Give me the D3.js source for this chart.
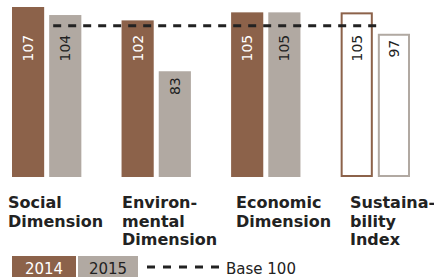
<!DOCTYPE html>
<html>
<head>
<meta charset="utf-8">
<script src="https://cdn.jsdelivr.net/npm/d3@7"></script>
<style>
  body { margin: 0; background: #fff; }
  svg { display: block; font-family: "DejaVu Sans", Verdana, sans-serif; }
</style>
</head>
<body>
<svg width="434" height="277"></svg>
<script>
const svg = d3.select("svg");

const categories = ["Social", "Environmental", "Economic", "Sustainability"];
const categoryLines = [
    ["Social", "Dimension"],
    ["Environ-", "mental", "Dimension"],
    ["Economic", "Dimension"],
    ["Sustaina-", "bility", "Index"]
];
const years = ["2014", "2015"];
const values2014 = [107, 102, 105, 105];
const values2015 = [104, 83, 105, 97];
const baseValue = 100;
const baseLabel = "Base 100";

const colors = { "2014": "#8c624a", "2015": "#b1a9a2" };
const textColors = { "2014": "#ffffff", "2015": "#222222" };

const x0 = d3.scaleBand().domain(categories).range([12, 410]).paddingInner(0.367).paddingOuter(0);
const x1 = d3.scaleBand().domain(years).range([0, x0.bandwidth()]).paddingInner(0.135);
const y = d3.scaleLinear().domain([43.5, 107]).range([177, 7]);
const labelX = d3.scaleBand().domain(categories).range([8, 464]);

const data = [];
categories.forEach((c, i) => {
    data.push({ cat: c, year: "2014", value: values2014[i], outline: c === "Sustainability" });
    data.push({ cat: c, year: "2015", value: values2015[i], outline: c === "Sustainability" });
});

const g = svg.append("g");

// bars
data.forEach(d => {
    const bx = x0(d.cat) + x1(d.year);
    const by = y(d.value);
    if (d.outline) {
        g.append("rect")
            .attr("x", bx + 1)
            .attr("y", by + 1)
            .attr("width", x1.bandwidth() - 2)
            .attr("height", y.range()[0] - by - 2)
            .attr("fill", "#fff")
            .attr("stroke", colors[d.year])
            .attr("stroke-width", 2);
    } else {
        g.append("rect")
            .attr("x", bx)
            .attr("y", by)
            .attr("width", x1.bandwidth())
            .attr("height", y.range()[0] - by)
            .attr("fill", colors[d.year]);
    }
    const ty = Math.max(by + 6, y(baseValue) + 9);
    g.append("text")
        .attr("transform", `translate(${bx + x1.bandwidth() / 2 + 5},${ty}) rotate(-90)`)
        .attr("text-anchor", "end")
        .attr("font-size", 14)
        .attr("fill", d.outline ? "#222" : textColors[d.year])
        .text(d.value);
});

// base line
g.append("line")
    .attr("x1", x0("Social") + x1("2015") + 4)
    .attr("x2", x0("Sustainability") + x1("2015"))
    .attr("y1", y(baseValue))
    .attr("y2", y(baseValue))
    .attr("stroke", "#222")
    .attr("stroke-width", 3)
    .attr("stroke-dasharray", "8,7");

// category labels
categories.forEach((c, i) => {
    const t = g.append("text")
        .attr("x", labelX(c))
        .attr("y", 208)
        .attr("font-size", 16)
        .attr("font-weight", "bold")
        .attr("fill", "#222");
    categoryLines[i].forEach((line, j) => {
        t.append("tspan")
            .attr("x", labelX(c))
            .attr("y", 208 + j * 18.5)
            .text(line);
    });
});

// legend
const legend = svg.append("g");
const legendBoxes = [{ year: "2014", x: 12, w: 64 }, { year: "2015", x: 78, w: 60 }];
legendBoxes.forEach(b => {
    legend.append("rect")
        .attr("x", b.x).attr("y", 256)
        .attr("width", b.w).attr("height", 21)
        .attr("fill", colors[b.year]);
    legend.append("text")
        .attr("x", b.x + b.w / 2).attr("y", 273.5)
        .attr("text-anchor", "middle")
        .attr("font-size", 15)
        .attr("fill", textColors[b.year])
        .text(b.year);
});
legend.append("line")
    .attr("x1", 147).attr("x2", 219)
    .attr("y1", 267).attr("y2", 267)
    .attr("stroke", "#222")
    .attr("stroke-width", 3)
    .attr("stroke-dasharray", "8,8");
legend.append("text")
    .attr("x", 226).attr("y", 273.5)
    .attr("font-size", 15)
    .attr("fill", "#222")
    .text(baseLabel);
</script>
</body>
</html>
